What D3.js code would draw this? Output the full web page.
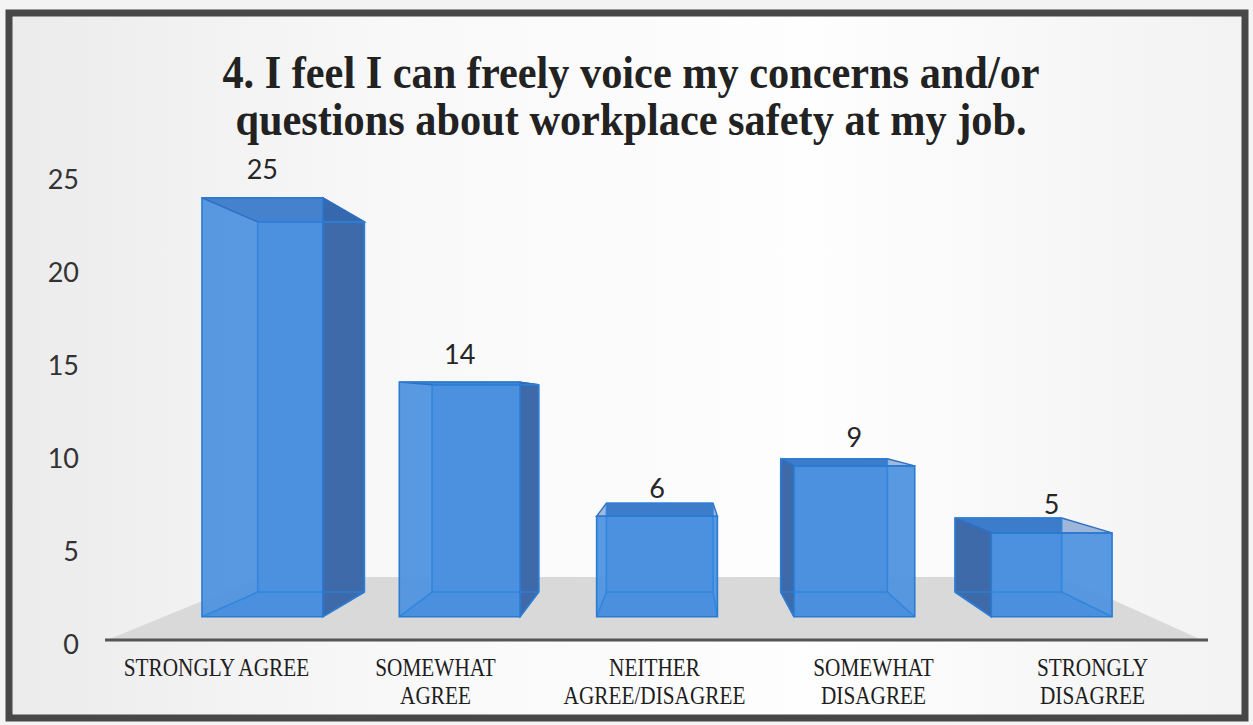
<!DOCTYPE html>
<html>
<head>
<meta charset="utf-8">
<script src="https://cdn.jsdelivr.net/npm/d3@7"></script>
<style>
  html, body { margin: 0; padding: 0; background: #ffffff; }
  svg { display: block; }
</style>
</head>
<body>
<svg id="chart" width="1253" height="725"></svg>
<script>
// Survey question 4 — responses per answer, drawn as 3D perspective columns
const titleLines = [
  "4. I feel I can freely voice my concerns and/or",
  "questions about workplace safety at my job."
];
const categories = [
  "STRONGLY AGREE",
  "SOMEWHAT AGREE",
  "NEITHER AGREE/DISAGREE",
  "SOMEWHAT DISAGREE",
  "STRONGLY DISAGREE"
];
const categoryLines = [
  ["STRONGLY AGREE"],
  ["SOMEWHAT", "AGREE"],
  ["NEITHER", "AGREE/DISAGREE"],
  ["SOMEWHAT", "DISAGREE"],
  ["STRONGLY", "DISAGREE"]
];
const counts = [25, 14, 6, 9, 5];
const yTicks = [0, 5, 10, 15, 20, 25];

const W = 1253, H = 725;
const svg = d3.select("#chart");

// ---- panel background and frame ----
const defs = svg.append("defs");
const bg = defs.append("linearGradient").attr("id", "bgGrad")
  .attr("x1", "0%").attr("y1", "0%").attr("x2", "100%").attr("y2", "0%");
bg.append("stop").attr("offset", "0%").attr("stop-color", "#ebebeb");
bg.append("stop").attr("offset", "30%").attr("stop-color", "#f8f8f8");
bg.append("stop").attr("offset", "65%").attr("stop-color", "#fefefe");
bg.append("stop").attr("offset", "100%").attr("stop-color", "#f2f2f2");

svg.append("rect").attr("x", 0).attr("y", 0).attr("width", W).attr("height", H)
  .attr("fill", "#f4f4f4");
svg.append("rect").attr("x", 9).attr("y", 13).attr("width", 1236).attr("height", 705)
  .attr("fill", "url(#bgGrad)")
  .attr("stroke", "#474747").attr("stroke-width", 7);

// ---- scales ----
const x = d3.scaleBand().domain(categories).range([107, 1202])
  .paddingInner(0.388).paddingOuter(0.194);
const y = d3.scaleLinear().domain([0, 25]).range([640, 175]);
// depth across the floor (0 = front edge, 1 = back edge) mapped to perspective distance
const depth = d3.scaleLinear().domain([0, 1]).range([0, 0.366]);
const VP = { x: 680, y: 405 };
function proj(X, Y, d) {
  const s = 1 / (1 + depth(d));
  return [VP.x + (X - VP.x) * s, VP.y + (Y - VP.y) * s];
}
const barFront = 0.3, barBack = 0.7;

// ---- floor ----
const floorPts = [
  proj(x.range()[0], y(0), 0), proj(x.range()[1], y(0), 0),
  proj(x.range()[1], y(0), 1), proj(x.range()[0], y(0), 1)
];
svg.append("polygon")
  .attr("points", floorPts.map(p => p.join(",")).join(" "))
  .attr("fill", "#d9d9d9");

// axis line along the floor front
svg.append("line")
  .attr("x1", x.range()[0] - 2).attr("x2", x.range()[1] + 6)
  .attr("y1", y(0)).attr("y2", y(0))
  .attr("stroke", "#555555").attr("stroke-width", 3);

// ---- bars ----
const poly = pts => pts.map(p => p.join(",")).join(" ");
const barsG = svg.append("g");
categories.forEach((c, i) => {
  const v = counts[i];
  const x0 = x(c), x1 = x(c) + x.bandwidth();
  const yT = y(v), yB = y(0);
  const FTL = proj(x0, yT, barFront), FTR = proj(x1, yT, barFront);
  const FBL = proj(x0, yB, barFront), FBR = proj(x1, yB, barFront);
  const BTL = proj(x0, yT, barBack), BTR = proj(x1, yT, barBack);
  const BBL = proj(x0, yB, barBack), BBR = proj(x1, yB, barBack);
  const g = barsG.append("g");

  // back and bottom faces
  g.append("polygon").attr("points", poly([BTL, BTR, BBR, BBL]))
    .attr("fill", "#4a8fdc");
  g.append("polygon").attr("points", poly([FBL, FBR, BBR, BBL]))
    .attr("fill", "#3f86d6");
  // side face seen from the vanishing point side
  if (x1 < VP.x) {
    g.append("polygon").attr("points", poly([FTR, BTR, BBR, FBR]))
      .attr("fill", "#3e6aa9").attr("stroke", "#2f6fc0").attr("stroke-width", 1.4);
  } else if (x0 > VP.x) {
    g.append("polygon").attr("points", poly([FTL, BTL, BBL, FBL]))
      .attr("fill", "#3e6aa9").attr("stroke", "#2f6fc0").attr("stroke-width", 1.4);
  }
  // front face
  g.append("polygon").attr("points", poly([FTL, FTR, FBR, FBL]))
    .attr("fill", "#4b91e0").attr("fill-opacity", 0.93);
  // top face (seen through the front)
  g.append("polygon").attr("points", poly([FTL, FTR, BTR, BTL]))
    .attr("fill", "#2f66b3").attr("fill-opacity", 0.45)
    .attr("stroke", "#2f70c4").attr("stroke-width", 1.4);
  // edges showing through the translucent box
  const hidden = [[BTL, BBL], [BTR, BBR], [BBL, BBR], [FBL, BBL], [FBR, BBR], [BTL, BTR]];
  hidden.forEach(([a, b]) => {
    g.append("line").attr("x1", a[0]).attr("y1", a[1]).attr("x2", b[0]).attr("y2", b[1])
      .attr("stroke", "#2a83dc").attr("stroke-width", 1.6).attr("stroke-opacity", 0.8);
  });
  // front outline
  g.append("polygon").attr("points", poly([FTL, FTR, FBR, FBL]))
    .attr("fill", "none").attr("stroke", "#2a7bd2").attr("stroke-width", 1.6);

  // value label above the column
  const top = proj(x0 + x.bandwidth() / 2, yT, barFront);
  svg.append("text")
    .attr("x", top[0]).attr("y", top[1] - 29)
    .attr("text-anchor", "middle").attr("dominant-baseline", "central")
    .attr("font-family", "Lato, 'Open Sans', sans-serif")
    .attr("font-size", 27).attr("fill", "#262626")
    .text(v);
});

// ---- value axis labels ----
svg.append("g").selectAll("text").data(yTicks).join("text")
  .attr("x", 79).attr("y", d => y(d) + 3)
  .attr("text-anchor", "end").attr("dominant-baseline", "central")
  .attr("font-family", "Lato, 'Open Sans', sans-serif")
  .attr("font-size", 27).attr("fill", "#333333")
  .text(d => d);

// squeeze serif text horizontally to the narrow set used in the chart
function squeeze(sel, k) {
  sel.each(function () {
    const len = this.getComputedTextLength();
    d3.select(this).attr("textLength", len * k).attr("lengthAdjust", "spacingAndGlyphs");
  });
}

// ---- category labels ----
const catG = svg.append("g");
categories.forEach((c, i) => {
  const cx = x(c) + x.bandwidth() / 2;
  categoryLines[i].forEach((line, j) => {
    const t = catG.append("text")
      .attr("x", cx).attr("y", 676 + j * 28)
      .attr("text-anchor", "middle")
      .attr("font-family", "'Liberation Serif', 'Times New Roman', serif")
      .attr("font-size", 25).attr("fill", "#1e1e1e")
      .text(line);
    squeeze(t, 0.85);
  });
});

// ---- title ----
titleLines.forEach((line, j) => {
  const t = svg.append("text")
    .attr("x", 631).attr("y", 88 + j * 47)
    .attr("text-anchor", "middle")
    .attr("font-family", "'Liberation Serif', 'Times New Roman', serif")
    .attr("font-weight", "bold")
    .attr("font-size", 46).attr("fill", "#222222")
    .text(line);
  squeeze(t, 0.92);
});
</script>
</body>
</html>
